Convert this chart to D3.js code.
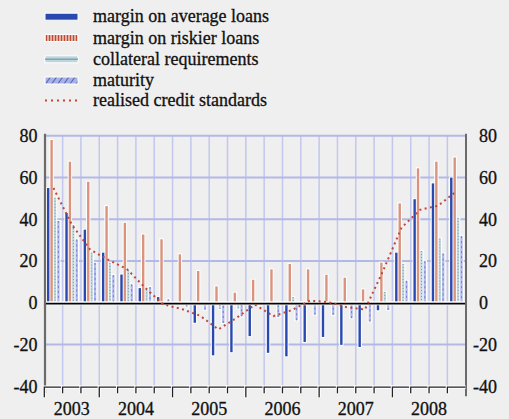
<!DOCTYPE html>
<html><head><meta charset="utf-8">
<script src="https://cdn.jsdelivr.net/npm/d3@7"></script>
<style>
html,body{margin:0;padding:0;background:#efefef;}
svg{display:block;}
text{font-family:"Liberation Serif","DejaVu Serif","Times New Roman",serif;}
</style></head><body>
<svg id="c" width="509" height="419"></svg>
<script>
const quarters = ["2003Q2","2003Q3","2003Q4",
  "2004Q1","2004Q2","2004Q3","2004Q4",
  "2005Q1","2005Q2","2005Q3","2005Q4",
  "2006Q1","2006Q2","2006Q3","2006Q4",
  "2007Q1","2007Q2","2007Q3","2007Q4",
  "2008Q1","2008Q2","2008Q3","2008Q4"];
const years = ["2003","2004","2005","2006","2007","2008"];
const avgMargin   = [55, 43, 35, 24, 13.5, 7, 2.7, 0, -9.6, -25.2, -23.7, -16, -24, -25.7, -18.8, -16.4, -20.2, -21.2, -3.6, 24, 49.6, 57.2, 60];
const riskyMargin = [78, 67.6, 58, 46.3, 38.3, 32.7, 30.4, 23.2, 15.2, 7.8, 4.8, 11, 16, 18.6, 16, 13.4, 12, 6.4, 19.2, 47.6, 64.4, 67.6, 69.6];
const collateral  = [50.3, 37.2, 24, 19.1, 15.6, 6.3, 0.5, 0, 0, -3, -2.7, 0, 0, 2.7, 0, 0, 0, 0, 5.2, 18.6, 24.8, 30.8, 40.7];
const maturity    = [39.2, 30.3, 19.1, 13.2, 8.8, 7.5, 1.6, -1.8, -3.3, -9.7, -6.5, -1, -6.8, -8.4, -5.7, -5.8, -7.4, -9, -3.5, 10.5, 19.9, 23.6, 31.9];
const realised    = [55, 37.5, 25.5, 20.5, 16.2, 7.2, -0.8, -3, -6.2, -12.8, -7.2, -0.9, -6.4, -3.6, 1, 0.3, -2.1, -3.3, 15.5, 36, 44.5, 46.5, 53.5];
const yTicks = [-40, -20, 0, 20, 40, 60, 80];
const seriesNames = ["margin on average loans","margin on riskier loans","collateral requirements","maturity","realised credit standards"];

const FONT = "Liberation Serif, DejaVu Serif, Times New Roman, serif";
const svg = d3.select("#c");
const defs = svg.append("defs");

const pr = defs.append("pattern").attr("id","pRisk").attr("patternUnits","userSpaceOnUse").attr("width",3).attr("height",8);
pr.append("rect").attr("width",3).attr("height",8).attr("fill","#e2ad9d");
pr.append("rect").attr("x",1).attr("width",1).attr("height",8).attr("fill","#c04a3a");
const pm = defs.append("pattern").attr("id","pMat").attr("patternUnits","userSpaceOnUse").attr("width",5).attr("height",5).attr("patternTransform","rotate(35)");
pm.append("rect").attr("width",5).attr("height",5).attr("fill","#a9b1e4");
pm.append("rect").attr("x",0).attr("width",0.9).attr("height",5).attr("fill","#4658b8");

const x = d3.scaleBand().domain(quarters).range([44.3, 465.7]).padding(0);
const y = d3.scaleLinear().domain([-40, 80]).range([386.2, 135.8]);
const inner = d3.scaleBand().domain([0,1,2,3]).range([2.2, 15.8]);
const xL = 44.3, xR = 465.7;

// grid
const grid = svg.append("g");
grid.selectAll("line.v").data(quarters.slice(1)).join("line")
  .attr("x1", d => x(d)).attr("x2", d => x(d))
  .attr("y1", y(80)).attr("y2", y(-40))
  .attr("stroke", "#c2c7ee").attr("stroke-width", 1.5);
grid.selectAll("line.h").data(yTicks.filter(v => v !== 0 && v !== -40)).join("line")
  .attr("x1", xL).attr("x2", xR)
  .attr("y1", d => y(d)).attr("y2", d => y(d))
  .attr("stroke", "#b3b9e6").attr("stroke-width", 2);

// bars
const series = [avgMargin, riskyMargin, collateral, maturity];
const fills = ["#2a49b0", "#d9937e", "#c4d9de", "#b5bbea"];
const bw = 2.4;
function cx(i, s){ return x(quarters[i]) + inner(s) + inner.bandwidth()/2; }
const barData = [];
series.forEach((arr, s) => arr.forEach((v, i) => { if (v !== 0) barData.push({s, i, v}); }));
const bars = svg.append("g");
bars.selectAll("rect.bk").data(barData).join("rect")
  .attr("x", d => cx(d.i, d.s) - bw/2 - 1)
  .attr("width", bw + 2)
  .attr("y", d => Math.min(y(d.v), y(0)) - 1)
  .attr("height", d => Math.abs(y(d.v) - y(0)) + 2)
  .attr("fill", "#ffffff");
bars.selectAll("rect.f").data(barData).join("rect")
  .attr("x", d => cx(d.i, d.s) - bw/2)
  .attr("width", bw)
  .attr("y", d => Math.min(y(d.v), y(0)))
  .attr("height", d => Math.abs(y(d.v) - y(0)))
  .attr("fill", d => fills[d.s]);
bars.selectAll("line.t").data(barData.filter(d => d.s >= 2)).join("line")
  .attr("x1", d => cx(d.i, d.s)).attr("x2", d => cx(d.i, d.s))
  .attr("y1", d => y(d.v)).attr("y2", y(0))
  .attr("stroke", d => d.s === 2 ? "#5f95a2" : "#6070c8")
  .attr("stroke-width", d => d.s === 2 ? 0.9 : 0.8)
  .attr("stroke-dasharray", d => d.s === 2 ? "1,2" : "2,3");

// zero line
svg.append("line").attr("x1", xL).attr("x2", xR).attr("y1", y(0)+0.6).attr("y2", y(0)+0.6)
  .attr("stroke", "#fff").attr("stroke-width", 4);
svg.append("line").attr("x1", xL).attr("x2", xR).attr("y1", y(0)+0.8).attr("y2", y(0)+0.8)
  .attr("stroke", "#000").attr("stroke-width", 1.8);

// realised line
const line = d3.line().x((d, i) => x(quarters[i]) + x.bandwidth()/2).y(d => y(d));
svg.append("path").datum(realised).attr("d", line).attr("fill", "none")
  .attr("stroke", "#c0463a").attr("stroke-width", 2).attr("stroke-dasharray", "2,3.4");

// axes
svg.append("line").attr("x1", xL+0.7).attr("x2", xL+0.7).attr("y1", y(80)-2).attr("y2", y(-40)+7)
  .attr("stroke", "#6b6b6b").attr("stroke-width", 2.2);
svg.append("line").attr("x1", xR+0.3).attr("x2", xR+0.3).attr("y1", y(80)-2).attr("y2", y(-40)+10)
  .attr("stroke", "#6b6b6b").attr("stroke-width", 2);

const bx = quarters.map(q => x(q));
const by = y(-40) + 1;
const ax = svg.append("g");
bx.forEach((b, i) => {
  const isYear = quarters[i].endsWith("Q1") || i === 0;
  const end = i < bx.length - 1 ? bx[i+1] : xR;
  const d = `M${b},${by + (isYear ? 10 : 6)}V${by}H${end}`;
  ax.append("path").attr("d", d).attr("fill","none").attr("stroke","#fff").attr("stroke-width",3.2);
  ax.append("path").attr("d", d).attr("fill","none").attr("stroke","#222").attr("stroke-width",1.3);
});

function styleText(sel){
  return sel.attr("font-size", 18).attr("font-family", FONT).attr("fill", "#111")
    .attr("stroke", "#111").attr("stroke-width", 0.3);
}

// y labels
styleText(svg.append("g").selectAll("text").data(yTicks).join("text")
  .attr("x", 37.5).attr("y", d => y(d)).attr("dy", "0.35em")
  .attr("text-anchor", "end")).text(d => d);
styleText(svg.append("g").selectAll("text").data(yTicks).join("text")
  .attr("x", d => d < 0 ? 473 : 479).attr("y", d => y(d)).attr("dy", "0.35em")
  .attr("text-anchor", "start")).text(d => d);

// year labels
styleText(svg.append("g").selectAll("text").data(years).join("text")
  .attr("x", yr => {
    const qs = quarters.filter(q => q.startsWith(yr));
    return (x(qs[0]) + x(qs[qs.length-1]) + x.bandwidth()) / 2;
  })
  .attr("y", 415).attr("text-anchor", "middle")).text(d => d);

// legend
const lg = svg.append("g");
const ly = [16.7, 38, 59.3, 80.5, 100.5];
const sx = 45, sw = 33;
lg.append("rect").attr("x", sx).attr("y", ly[0]-3.5).attr("width", sw).attr("height", 7)
  .attr("fill", "#2a49b0").attr("stroke", "#fff").attr("stroke-width", 1);
lg.append("rect").attr("x", sx).attr("y", ly[1]-3.5).attr("width", sw).attr("height", 7)
  .attr("fill", "url(#pRisk)").attr("stroke", "#fff").attr("stroke-width", 1);
lg.append("rect").attr("x", sx).attr("y", ly[2]-3.5).attr("width", sw).attr("height", 7)
  .attr("fill", "#bdd5db").attr("stroke", "#fff").attr("stroke-width", 1);
lg.append("line").attr("x1", sx).attr("x2", sx+sw).attr("y1", ly[2]).attr("y2", ly[2])
  .attr("stroke", "#7fa7b2").attr("stroke-width", 1.4);
lg.append("rect").attr("x", sx).attr("y", ly[3]-3.5).attr("width", sw).attr("height", 7)
  .attr("fill", "url(#pMat)").attr("stroke", "#fff").attr("stroke-width", 1);
lg.append("line").attr("x1", sx).attr("x2", sx+sw).attr("y1", ly[4]).attr("y2", ly[4])
  .attr("stroke", "#c0463a").attr("stroke-width", 2).attr("stroke-dasharray", "2,4");
styleText(lg.selectAll("text").data(seriesNames).join("text")
  .attr("x", 93).attr("y", (d, i) => ly[i]).attr("dy", "0.32em")).text(d => d);
</script>
</body></html>
